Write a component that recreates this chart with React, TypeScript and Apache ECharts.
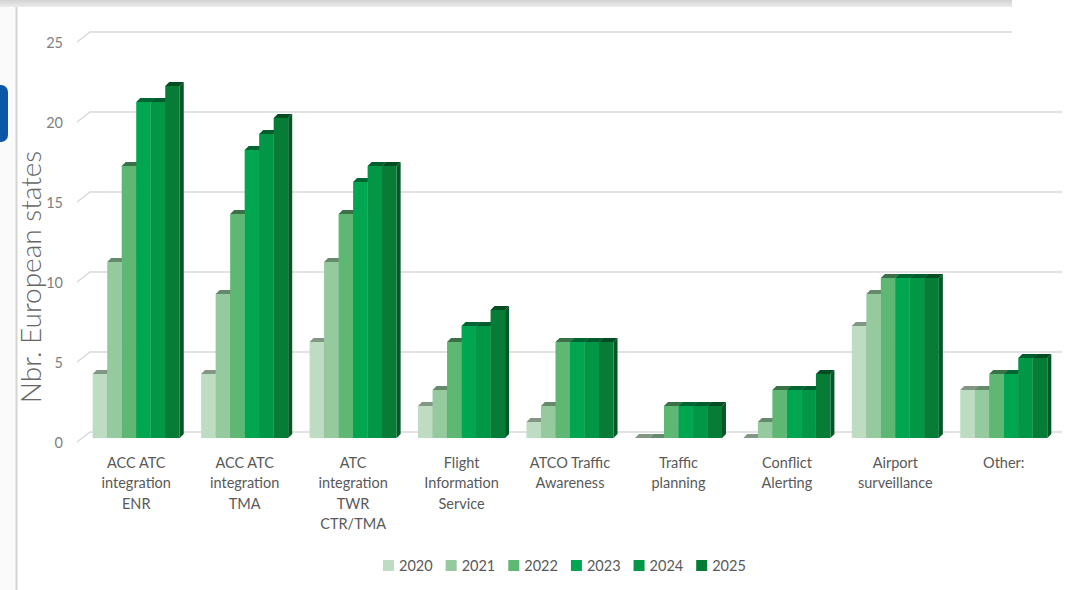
import React, { useEffect, useRef } from "react";
import * as echarts from "echarts";

// Categories on the horizontal axis (multi-line labels)
const CATEGORIES = [
  "ACC ATC\nintegration\nENR",
  "ACC ATC\nintegration\nTMA",
  "ATC\nintegration\nTWR\nCTR/TMA",
  "Flight\nInformation\nService",
  "ATCO Traffic\nAwareness",
  "Traffic\nplanning",
  "Conflict\nAlerting",
  "Airport\nsurveillance",
  "Other:",
];

const YEARS = ["2020", "2021", "2022", "2023", "2024", "2025"];

// Number of European states per category, one array per year
const V2020 = [4, 4, 6, 2, 1, 0, 0, 7, 3];
const V2021 = [11, 9, 11, 3, 2, 0, 1, 9, 3];
const V2022 = [17, 14, 14, 6, 6, 2, 3, 10, 4];
const V2023 = [21, 18, 16, 7, 6, 2, 3, 10, 4];
const V2024 = [21, 19, 17, 7, 6, 2, 3, 10, 5];
const V2025 = [22, 20, 17, 8, 6, 2, 4, 10, 5];
const VALUES = [V2020, V2021, V2022, V2023, V2024, V2025];

const Y_TICKS = [0, 5, 10, 15, 20, 25];

const COLORS = ["#bddcc1", "#95c99e", "#5eb772", "#00a650", "#029747", "#067c37"];

const FONT = "Lato, 'Open Sans', sans-serif";

function shade(hex: string, f: number): string {
  const n = parseInt(hex.slice(1), 16);
  const r = Math.round(((n >> 16) & 255) * f);
  const g = Math.round(((n >> 8) & 255) * f);
  const b = Math.round((n & 255) * f);
  return "rgb(" + r + "," + g + "," + b + ")";
}

// geometry of the pseudo-3D bars (pixels)
const DEPTH_X = 4;
const DEPTH_Y = 4;
const FRONT_DROP = 6;
const BAR_FRACTION = 0.1338;

export default function App() {
  const ref = useRef<HTMLDivElement>(null);

  useEffect(() => {
    if (!ref.current) return;
    const chart = echarts.init(ref.current, undefined, { renderer: "svg" });

    const barSeries = YEARS.map((year, si) => ({
      type: "custom",
      name: year,
      itemStyle: { color: COLORS[si] },
      data: VALUES[si].map((v, ci) => [ci, v]),
      encode: { x: 0, y: 1 },
      z: 3,
      renderItem: (_params: any, api: any) => {
        const ci = api.value(0);
        const v = api.value(1);
        const top = api.coord([ci, v]);
        const base = api.coord([ci, 0]);
        const band = api.size([1, 0])[0];
        const w = band * BAR_FRACTION;
        const x = top[0] + (si - 3) * w;
        const yf = top[1] + FRONT_DROP;
        const yb = base[1] + FRONT_DROP;
        const c = COLORS[si];
        return {
          type: "group",
          children: [
            {
              type: "polygon",
              shape: {
                points: [
                  [x + w, yf],
                  [x + w + DEPTH_X, yf - DEPTH_Y],
                  [x + w + DEPTH_X, yb - DEPTH_Y],
                  [x + w, yb],
                ],
              },
              style: { fill: shade(c, 0.7) },
            },
            {
              type: "polygon",
              shape: {
                points: [
                  [x, yf],
                  [x + DEPTH_X, yf - DEPTH_Y],
                  [x + w + DEPTH_X, yf - DEPTH_Y],
                  [x + w, yf],
                ],
              },
              style: { fill: shade(c, si < 2 ? 0.68 : 0.62) },
            },
            {
              type: "rect",
              shape: { x: x, y: yf, width: w, height: Math.max(0, yb - yf) },
              style: { fill: c },
            },
          ],
        };
      },
    }));

    // back-wall gridlines with their slanted side-wall segments
    const wallSeries = {
      type: "custom",
      name: "wall",
      silent: true,
      z: 1,
      data: Y_TICKS.map((t) => [0, t]),
      encode: { x: 0, y: 1 },
      renderItem: (_params: any, api: any) => {
        const p = api.coord([0, api.value(1)]);
        const band = api.size([1, 0])[0];
        const left = p[0] - band / 2;
        const y = p[1];
        return {
          type: "polyline",
          shape: {
            points: [
              [left - 5, y + 10],
              [left + 8, y],
              [left + band * 9 + 4, y],
            ],
          },
          style: { stroke: "#d9d9d9", lineWidth: 1.5, fill: "none" },
        };
      },
    };

    chart.setOption({
      animation: false,
      backgroundColor: "#ffffff",
      textStyle: { fontFamily: FONT },
      grid: { left: 82, right: 25, top: 32, bottom: 158 },
      legend: {
        data: YEARS,
        left: 383,
        top: 558,
        padding: 0,
        icon: "rect",
        itemWidth: 11,
        itemHeight: 11,
        itemGap: 13,
        textStyle: { color: "#595959", fontSize: 14.5, fontFamily: FONT },
      },
      xAxis: {
        type: "category",
        data: CATEGORIES,
        axisLine: { show: false },
        axisTick: { show: false },
        axisLabel: {
          color: "#595959",
          fontSize: 14.5,
          lineHeight: 20.5,
          margin: 20,
          interval: 0,
          fontFamily: FONT,
        },
      },
      yAxis: {
        type: "value",
        min: 0,
        max: 25,
        interval: 5,
        axisLine: { show: false },
        axisTick: { show: false },
        splitLine: { show: false },
        axisLabel: {
          color: "#7f7f7f",
          fontSize: 14.5,
          margin: 19,
          verticalAlign: "top",
          lineHeight: 20,
          fontFamily: FONT,
        },
      },
      graphic: [
        {
          type: "rect",
          z: 100,
          shape: { x: 0, y: 0, width: 1083, height: 7 },
          style: {
            fill: new echarts.graphic.LinearGradient(0, 0, 0, 1, [
              { offset: 0, color: "#d2d2d2" },
              { offset: 1, color: "#ebebeb" },
            ]),
          },
        },
        {
          type: "rect",
          z: 100,
          shape: { x: 0, y: 7, width: 16, height: 583 },
          style: { fill: "#fafafa" },
        },
        {
          type: "line",
          z: 100,
          shape: { x1: 16.5, y1: 7, x2: 16.5, y2: 590 },
          style: { stroke: "#d4d4d4", lineWidth: 2 },
        },
        {
          type: "rect",
          z: 101,
          shape: { x: -12, y: 85, width: 20, height: 57, r: 7 },
          style: { fill: "#0b56a6" },
        },
        {
          type: "rect",
          z: 100,
          shape: { x: 1012, y: 0, width: 71, height: 72 },
          style: { fill: "#ffffff" },
        },
        {
          type: "text",
          z: 100,
          x: 30,
          y: 277,
          rotation: Math.PI / 2,
          style: {
            text: "Nbr. European states",
            fill: "#666666",
            font: "300 28px " + FONT,
            align: "center",
            verticalAlign: "middle",
          },
        },
      ],
      series: [wallSeries, ...barSeries],
    });

    return () => chart.dispose();
  }, []);

  return (
    <div
      ref={ref}
      style={{ position: "fixed", left: 0, top: 0, width: 1083, height: 590 }}
    />
  );
}
